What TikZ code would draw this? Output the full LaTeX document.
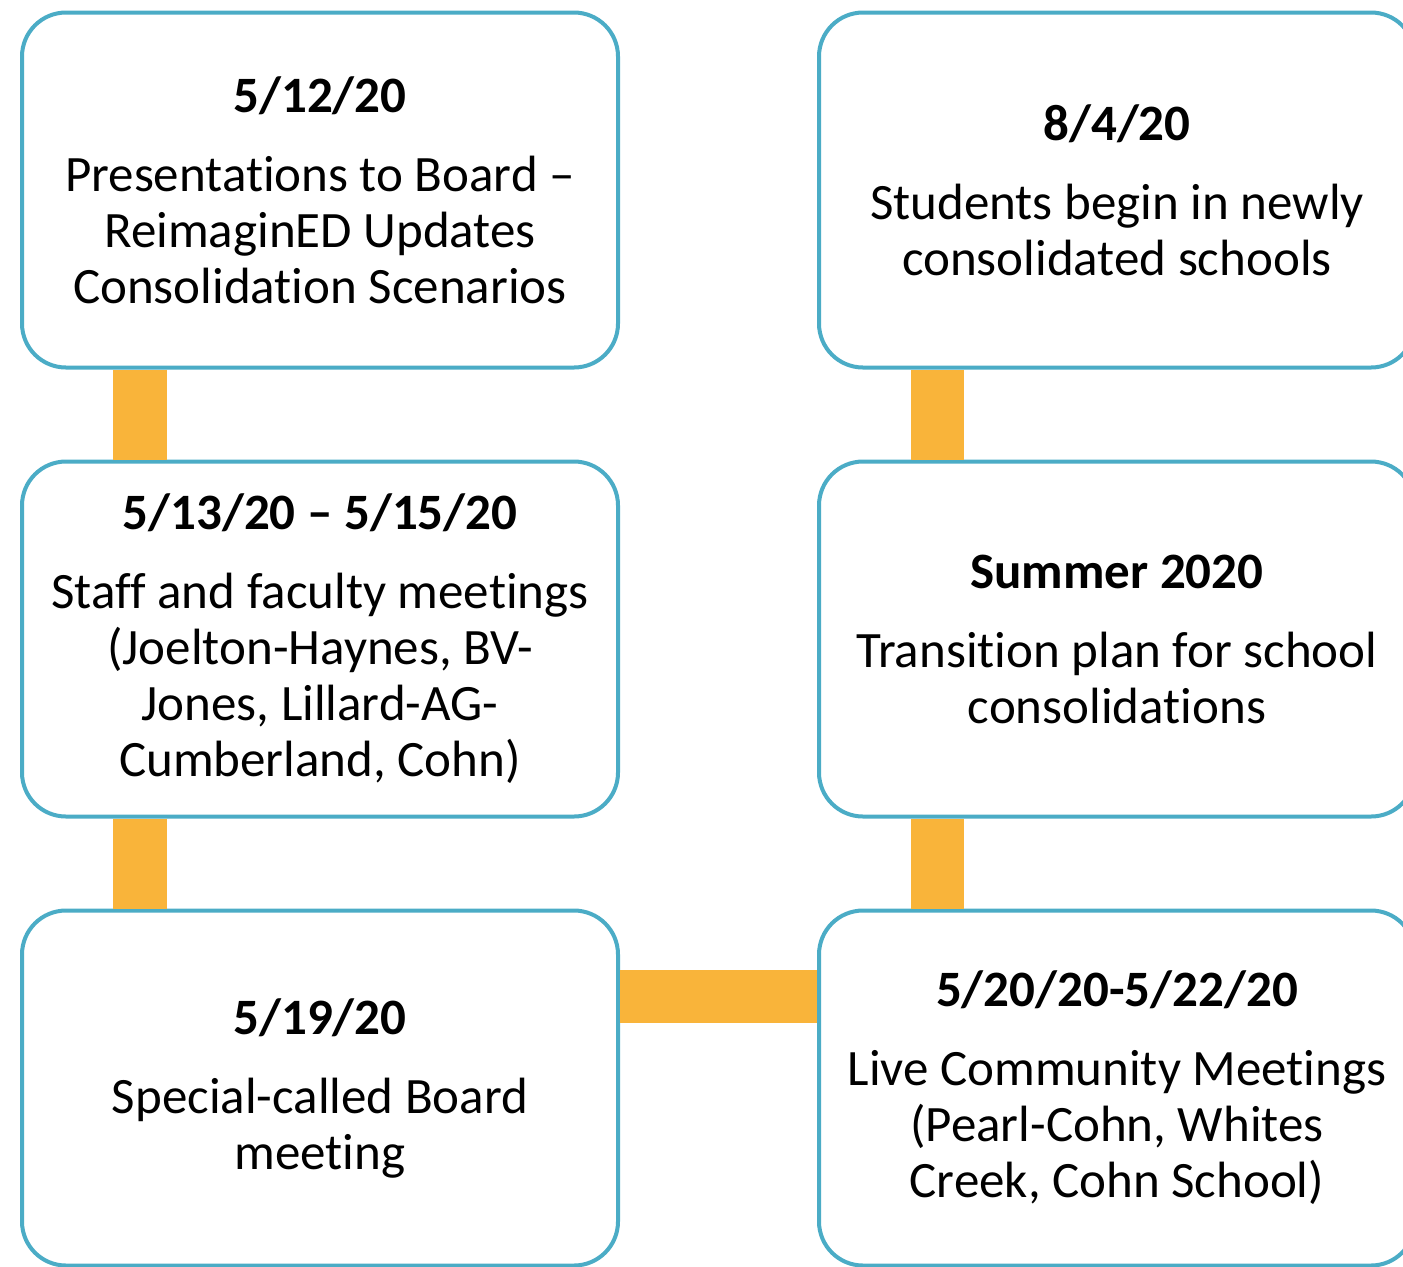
\documentclass[tikz,border=0pt]{standalone}
\usepackage{fontspec}
\setmainfont[Ligatures={TeX,NoCommon}]{Carlito}
\usetikzlibrary{positioning,calc}
\definecolor{boxblue}{HTML}{4BACC6}
\definecolor{barorange}{HTML}{F9B43A}
\tikzstyle{event} = [draw=boxblue, line width=2pt, fill=white, rectangle, rounded corners=22pt, align=center, minimum width=298pt, minimum height=177.5pt, inner sep=0pt, font=\fontsize{25.5}{28}\selectfont]
\tikzstyle{link} = [draw=barorange, line width=26.5pt]

\begin{document}
\begin{tikzpicture}[x=0.5pt, y=-0.5pt, node distance=45pt and 98.5pt]
        \clip (0,0) rectangle (1403,1266);
        \node[event] (may12) at (320,190) {\textbf{5/12/20}\\[11.5pt] Presentations to Board –\\ ReimaginED Updates\\ Consolidation Scenarios};
        \node[event, below=of may12] (may13) {\textbf{5/13/20 – 5/15/20}\\[11.5pt] Staff and faculty meetings\\ (Joelton-Haynes, BV-\\ Jones, Lillard-AG-\\ Cumberland, Cohn)};
        \node[event, below=of may13] (may19) {\textbf{5/19/20}\\[11.5pt] Special-called Board\\ meeting};
        \node[event, right=of may19] (may20) {\textbf{5/20/20-5/22/20}\\[11.5pt] Live Community Meetings\\ (Pearl-Cohn, Whites\\ Creek, Cohn School)};
        \node[event, above=of may20] (summer) {\textbf{Summer 2020}\\[11.5pt] Transition plan for school\\ consolidations};
        \node[event, above=of summer] (aug4) {\textbf{8/4/20}\\[11.5pt] Students begin in newly\\ consolidated schools};
        \coordinate (join) at ($(may19.north east)!0.245!(may19.south east)$);
        \path[link] ($(may12.south west)!0.2!(may12.south east)$) -- ($(may13.north west)!0.2!(may13.north east)$);
        \path[link] ($(may13.south west)!0.2!(may13.south east)$) -- ($(may19.north west)!0.2!(may19.north east)$);
        \path[link] (join) -- (join -| may20.west);
        \path[link] ($(may20.north west)!0.2!(may20.north east)$) -- ($(summer.south west)!0.2!(summer.south east)$);
        \path[link] ($(summer.north west)!0.2!(summer.north east)$) -- ($(aug4.south west)!0.2!(aug4.south east)$);
    \end{tikzpicture}
\end{document}
